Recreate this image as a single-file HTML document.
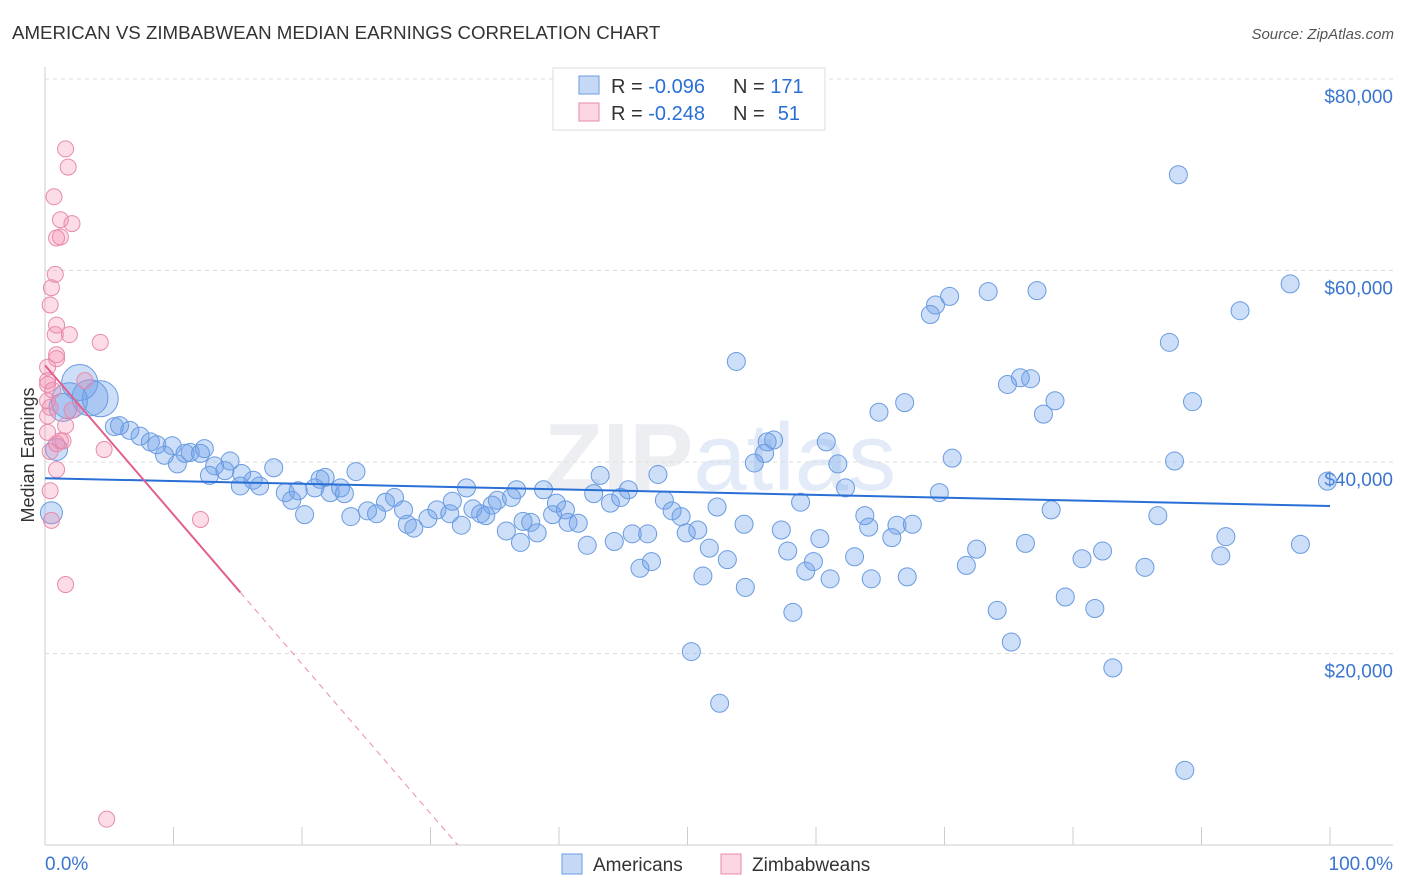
<!DOCTYPE html>
<html><head><meta charset="utf-8">
<style>
body{margin:0;background:#fff;font-family:"Liberation Sans",sans-serif;}
svg{display:block}
</style></head>
<body>
<svg width="1406" height="892" viewBox="0 0 1406 892" xmlns="http://www.w3.org/2000/svg">
<text x="12" y="39" font-size="18.7" fill="#333">AMERICAN VS ZIMBABWEAN MEDIAN EARNINGS CORRELATION CHART</text>
<text x="1394" y="39" font-size="15" fill="#555" font-style="italic" text-anchor="end">Source: ZipAtlas.com</text>
<text x="720" y="490" font-size="96" fill="#eceef2" text-anchor="middle" font-weight="bold">ZIP<tspan fill="#e2ebf7" font-weight="normal">atlas</tspan></text>
<g id="grid"></g>
<g id="axes"></g>
<g id="marks"></g>
<text transform="translate(34,455) rotate(-90)" font-size="18" fill="#333" text-anchor="middle">Median Earnings</text>
<g>
<rect x="553" y="68" width="272" height="62" fill="#fff" stroke="#ddd"/>
<rect x="579" y="76" width="20" height="18" fill="rgba(110,160,235,0.4)" stroke="#6a9be0"/>
<rect x="579" y="103" width="20" height="18" fill="rgba(245,140,175,0.35)" stroke="#e88aac"/>
<text x="611" y="93" font-size="20" fill="#333">R = <tspan fill="#2a6fd6">-0.096</tspan></text>
<text x="733" y="93" font-size="20" fill="#333">N = <tspan fill="#2a6fd6">171</tspan></text>
<text x="611" y="120" font-size="20" fill="#333">R = <tspan fill="#2a6fd6">-0.248</tspan></text>
<text x="733" y="120" font-size="20" fill="#333">N =</text>
<text x="800" y="120" font-size="20" fill="#2a6fd6" text-anchor="end">51</text>
</g>
<g>
<rect x="562" y="854" width="20" height="20" fill="rgba(110,160,235,0.4)" stroke="#6a9be0"/>
<text x="593" y="871" font-size="19" fill="#333">Americans</text>
<rect x="721" y="854" width="20" height="20" fill="rgba(245,140,175,0.35)" stroke="#e88aac"/>
<text x="752" y="871" font-size="19" fill="#333">Zimbabweans</text>
</g>
</svg>
<script>
const yTicks=[20000,40000,60000,80000];
const yTickLabels=["$20,000","$40,000","$60,000","$80,000"];
const xTickLabels=["0.0%","100.0%"];
const amX=[88.2,96.9,93.0,73.4,77.2,70.4,69.3,68.9,53.8,87.5,75.9,76.7,74.9,78.6,77.7,89.3,66.9,64.9,56.7,56.2,56.0,60.8,55.2,61.7,62.3,70.6,87.9,99.8,69.6,58.8,52.3,47.7,43.2,36.7,32.8,24.2,17.8,21.4,21.8,15.3,14.4,13.2,12.4,9.9,10.3,11.3,8.2,8.7,6.6,5.8,7.4,5.4,4.3,3.5,2.7,1.9,1.4,0.9,0.5,9.3,10.9,12.1,12.8,14.0,15.2,16.7,16.2,18.7,19.7,19.2,20.2,21.0,22.2,23.0,23.3,23.8,25.1,25.8,26.5,27.2,27.9,28.2,28.7,29.8,30.5,31.5,31.7,32.4,33.3,33.9,34.3,34.8,35.2,36.3,35.9,37.0,37.2,37.8,38.3,38.8,39.5,39.8,40.5,40.7,41.5,42.2,42.7,44.0,44.3,44.8,45.4,45.7,46.3,46.9,47.2,48.2,48.8,49.5,49.9,50.8,51.2,51.7,53.1,54.4,54.5,57.3,57.8,58.2,59.2,59.8,60.3,61.1,63.0,63.8,64.1,64.3,65.9,66.3,67.1,67.5,71.7,72.5,74.1,75.2,76.3,78.3,79.4,80.7,81.7,82.3,83.1,85.6,86.6,91.5,91.9,97.7,50.3,52.5,88.7];
const amY=[70.0,58.6,55.8,57.8,57.9,57.3,56.4,55.4,50.5,52.5,48.8,48.7,48.1,46.4,45.0,46.3,46.2,45.2,42.3,42.1,40.9,42.1,39.9,39.8,37.3,40.4,40.1,38.0,36.8,35.8,35.3,38.7,38.6,37.1,37.3,39.0,39.4,38.2,38.4,38.8,40.1,39.6,41.4,41.7,39.8,41.0,42.1,41.8,43.3,43.8,42.7,43.7,46.6,46.7,48.3,46.4,45.7,41.3,34.7,40.7,40.9,40.9,38.6,39.1,37.5,37.5,38.1,36.8,37.0,36.0,34.5,37.3,36.8,37.3,36.7,34.3,34.9,34.6,35.8,36.3,35.0,33.5,33.1,34.1,35.0,34.6,35.9,33.4,35.1,34.6,34.4,35.5,36.0,36.3,32.8,31.6,33.8,33.7,32.6,37.1,34.5,35.7,35.0,33.7,33.6,31.3,36.7,35.7,31.7,36.3,37.1,32.5,28.9,32.5,29.6,36.0,34.9,34.3,32.6,32.9,28.1,31.0,29.8,33.5,26.9,32.9,30.7,24.3,28.6,29.6,32.0,27.8,30.1,34.4,33.2,27.8,32.1,33.4,28.0,33.5,29.2,30.9,24.5,21.2,31.5,35.0,25.9,29.9,24.7,30.7,18.5,29.0,34.4,30.2,32.2,31.4,20.2,14.8,7.8];
const amSize=amX.map((x,i)=>(i>=52&&i<=55)?18:(i==56?14:(i==57||i==58)?11:9));
const zwX=[1.6,1.8,0.7,1.2,2.1,0.9,1.2,0.8,0.5,0.4,0.9,1.9,0.8,4.3,0.9,0.9,0.2,0.2,0.2,0.6,0.4,0.2,2.1,1.6,0.9,0.4,4.6,0.9,0.4,0.5,12.1,1.6,4.8,0.2,1.2,3.1,0.2,1.4];
const zwY=[72.7,70.8,67.7,65.3,64.9,63.4,63.5,59.6,58.2,56.4,54.3,53.3,53.3,52.5,51.2,50.8,49.9,48.5,48.1,47.5,45.7,44.8,45.4,43.8,41.9,41.1,41.3,39.2,37.0,33.9,34.0,27.2,2.7,43.1,42.2,48.5,46.4,42.2];
const amTrend=[38.3,35.4];
const zwTrend=[50.1,-1.56];
const NS="http://www.w3.org/2000/svg";
const X0=45,X1=1330,Y0=845,PX=(X1-X0)/100,PY=(845-79)/80;
const sx=p=>X0+p*PX, sy=k=>Y0-k*PY;
function mk(t,a,p){const e=document.createElementNS(NS,t);for(const k in a)e.setAttribute(k,a[k]);p.appendChild(e);return e;}
const grid=document.getElementById('grid'),axes=document.getElementById('axes'),marks=document.getElementById('marks');
yTicks.forEach((v,i)=>{
 const y=sy(v/1000);
 const l=mk('line',{x1:X0,x2:1393,y1:y,y2:y,stroke:'#ddd','stroke-dasharray':'4,4'},grid);
 
 
 const t=mk('text',{x:1393,y:y+24,'font-size':19,fill:'#3a75d0','text-anchor':'end'},axes);
 t.textContent=yTickLabels[i];
 
 
});
const ax=mk('line',{x1:X0,x2:1393,y1:Y0,y2:Y0,stroke:'#ccc'},axes);


const ay=mk('line',{x1:X0,x2:X0,y1:67,y2:Y0,stroke:'#ccc'},axes);


for(let i=0;i<=10;i++){const t=mk('line',{x1:sx(i*10),x2:sx(i*10),y1:Y0,y2:Y0-18,stroke:'#ccc'},axes);
 
 }
const xl0=mk('text',{x:45,y:870,'font-size':19,fill:'#3a75d0'},axes);xl0.textContent=xTickLabels[0];


const xl1=mk('text',{x:1393,y:870,'font-size':19,fill:'#3a75d0','text-anchor':'end'},axes);xl1.textContent=xTickLabels[1];


amX.forEach((x,i)=>{const c=mk('circle',{cx:sx(x),cy:sy(amY[i]),r:amSize[i],fill:'rgba(110,160,235,0.35)',stroke:'#6a9be0','stroke-width':1},marks);
 
 });
zwX.forEach((x,i)=>{const c=mk('circle',{cx:sx(x),cy:sy(zwY[i]),r:8,fill:'rgba(245,140,175,0.3)',stroke:'#e88aac','stroke-width':1},marks);
 
 });
const bl=mk('line',{x1:sx(0),y1:sy(amTrend[0]),x2:sx(100),y2:sy(amTrend[1]),stroke:'#2a6fd6','stroke-width':2},marks);


const xe=15.2,xz=-zwTrend[0]/zwTrend[1];
const pl=mk('line',{x1:sx(0),y1:sy(zwTrend[0]),x2:sx(xe),y2:sy(zwTrend[0]+zwTrend[1]*xe),stroke:'#e0608f','stroke-width':2},marks);


const pd=mk('line',{x1:sx(xe),y1:sy(zwTrend[0]+zwTrend[1]*xe),x2:sx(xz),y2:sy(0),stroke:'#e88aac','stroke-width':1,'stroke-dasharray':'6,5'},marks);


</script>
</body></html>
